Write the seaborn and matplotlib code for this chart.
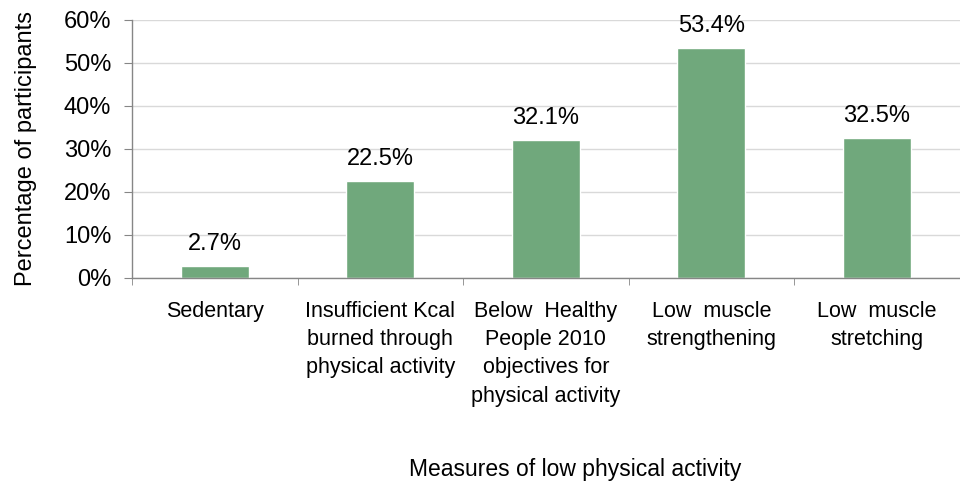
import matplotlib
matplotlib.use("Agg")
import matplotlib.pyplot as plt
import pandas as pd
import seaborn as sns
from matplotlib.ticker import PercentFormatter, MultipleLocator

categories = [
    "Sedentary",
    "Insufficient Kcal\nburned through\nphysical activity",
    "Below  Healthy\nPeople 2010\nobjectives for\nphysical activity",
    "Low  muscle\nstrengthening",
    "Low  muscle\nstretching",
]
values = [2.7, 22.5, 32.1, 53.4, 32.5]
value_labels = ["2.7%", "22.5%", "32.1%", "53.4%", "32.5%"]

df = pd.DataFrame({"measure": categories, "pct": values})

sns.set_style("white")
plt.rcParams["font.family"] = ["Liberation Sans", "DejaVu Sans"]
plt.rcParams["text.color"] = "black"
plt.rcParams["xtick.color"] = "black"
plt.rcParams["ytick.color"] = "black"
plt.rcParams["axes.labelcolor"] = "black"

fig = plt.figure(figsize=(9.6, 4.86), dpi=100)
ax = fig.add_axes([0.1375, 0.428, 0.862, 0.531])

sns.barplot(data=df, x="measure", y="pct", color="#70A87C", saturation=1,
            width=0.41, ax=ax)

ax.set_ylim(0, 60)
ax.set_xlim(-0.5, len(categories) - 0.5)
ax.yaxis.set_major_locator(MultipleLocator(10))
ax.yaxis.set_major_formatter(PercentFormatter(decimals=0))
ax.grid(axis="y", color="#d9d9d9", linewidth=1)
ax.set_axisbelow(True)

for side in ["top", "right"]:
    ax.spines[side].set_visible(False)
for side in ["left", "bottom"]:
    ax.spines[side].set_color("#868686")
    ax.spines[side].set_linewidth(1)

# y ticks outside, x ticks at category boundaries
ax.tick_params(axis="y", which="major", left=True, length=6, color="#868686",
               labelsize=17, pad=9)
ax.set_xticks(range(len(categories)))
ax.set_xticklabels(categories, fontsize=15.5, linespacing=1.45)
ax.tick_params(axis="x", which="major", bottom=False, pad=13)
ax.set_xticks([i - 0.5 for i in range(len(categories) + 1)], minor=True)
ax.tick_params(axis="x", which="minor", bottom=True, length=5, color="#868686")

for i, (v, t) in enumerate(zip(values, value_labels)):
    ax.annotate(t, (i, v), xytext=(0, 8), textcoords="offset points",
                ha="center", va="bottom", fontsize=17)

ax.set_ylabel("Percentage of participants", fontsize=17, va="center")
ax.yaxis.set_label_coords(-0.128, 0.5)
ax.set_xlabel("Measures of low physical activity", fontsize=16.5, va="center")
ax.xaxis.set_label_coords(0.535, -0.744)

fig.savefig("out.png", dpi=100)
